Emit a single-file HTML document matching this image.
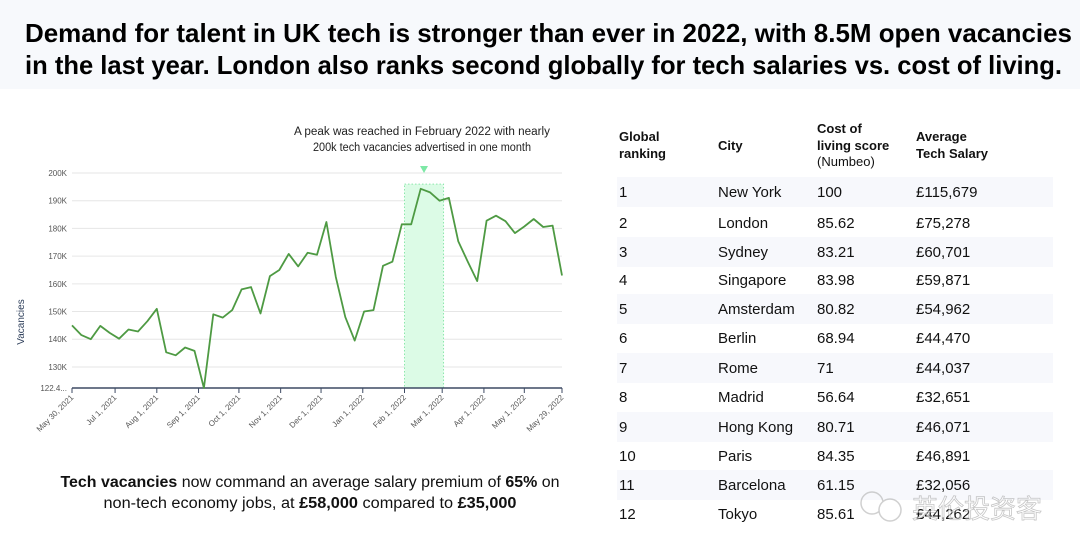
<!DOCTYPE html>
<html><head><meta charset="utf-8"><style>
html,body{margin:0;padding:0;background:#fff;}
svg{display:block;font-family:"Liberation Sans","Noto Sans CJK SC",sans-serif;}
</style></head><body>
<svg id="s" width="1080" height="556" viewBox="0 0 1080 556" xmlns="http://www.w3.org/2000/svg">
<rect x="0" y="0" width="1080" height="89" fill="#f7f9fc"/>
<g font-weight="bold" font-size="26" fill="#000">
<text x="25" y="42" textLength="1047" lengthAdjust="spacingAndGlyphs">Demand for talent in UK tech is stronger than ever in 2022, with 8.5M open vacancies</text>
<text x="25" y="74" textLength="1037" lengthAdjust="spacingAndGlyphs">in the last year. London also ranks second globally for tech salaries vs. cost of living.</text>
</g>
<g font-size="11.5" fill="#222" text-anchor="middle">
<text x="422" y="135" textLength="256" lengthAdjust="spacingAndGlyphs">A peak was reached in February 2022 with  nearly</text>
<text x="422" y="151" textLength="218" lengthAdjust="spacingAndGlyphs">200k tech vacancies advertised in one month</text>
</g>
<g id="chart"></g>
<text x="24" y="322" transform="rotate(-90 24 322)" text-anchor="middle" font-size="10" fill="#2d3e5a">Vacancies</text>
<g font-size="15.5" fill="#111" text-anchor="middle">
<text x="310" y="487" textLength="499" lengthAdjust="spacingAndGlyphs"><tspan font-weight="bold">Tech vacancies</tspan> now command an average salary premium of <tspan font-weight="bold">65%</tspan> on</text>
<text x="310" y="508" textLength="413" lengthAdjust="spacingAndGlyphs">non-tech economy jobs, at <tspan font-weight="bold">£58,000</tspan> compared to <tspan font-weight="bold">£35,000</tspan></text>
</g>
<g font-size="13" font-weight="bold" fill="#111">
<text x="619" y="141">Global</text><text x="619" y="158">ranking</text>
<text x="718" y="150">City</text>
<text x="817" y="133">Cost of</text><text x="817" y="150">living score</text>
<text x="817" y="166" font-weight="normal">(Numbeo)</text>
<text x="916" y="141">Average</text><text x="916" y="158">Tech Salary</text>
</g>
<g id="table"></g>
<g opacity="0.55">
<circle cx="872" cy="503" r="11" fill="none" stroke="#aaa" stroke-width="1.5"/>
<circle cx="890" cy="510" r="11" fill="#fff" stroke="#aaa" stroke-width="1.5"/>
<text x="912" y="518" font-size="26" fill="#fff" stroke="#999" stroke-width="0.8">英伦投资客</text>
</g>
</svg>
<script>
const categories = ["May 30, 2021","Jul 1, 2021","Aug 1, 2021","Sep 1, 2021","Oct 1, 2021","Nov 1, 2021","Dec 1, 2021","Jan 1, 2022","Feb 1, 2022","Mar 1, 2022","Apr 1, 2022","May 1, 2022","May 29, 2022"];
const tickDays = [0,32,63,94,124,155,185,216,247,275,306,336,364];
const yTicks = [130,140,150,160,170,180,190,200];
const yTickLabels = ["130K","140K","150K","160K","170K","180K","190K","200K"];
const vacancies = [145,141.5,140,144.8,142.3,140.2,143.5,142.8,146.5,151,135.3,134.2,137,135.8,122.4,149,147.8,150.5,158,158.8,149.3,162.8,165,170.8,166.3,171.2,170.5,182.3,162.5,148,139.5,150,150.5,166.5,168,181.5,181.5,194.3,193,190,191,175.3,168,161,182.8,184.6,182.6,178.3,180.7,183.4,180.5,181,163];
const highlightDays = [247,276];
const ranks = ["1","2","3","4","5","6","7","8","9","10","11","12"];
const cities = ["New York","London","Sydney","Singapore","Amsterdam","Berlin","Rome","Madrid","Hong Kong","Paris","Barcelona","Tokyo"];
const costScores = ["100","85.62","83.21","83.98","80.82","68.94","71","56.64","80.71","84.35","61.15","85.61"];
const salaries = ["£115,679","£75,278","£60,701","£59,871","£54,962","£44,470","£44,037","£32,651","£46,071","£46,891","£32,056","£44,262"];

const NS="http://www.w3.org/2000/svg";
function mk(tag,attrs,parent){const e=document.createElementNS(NS,tag);for(const k in attrs)e.setAttribute(k,attrs[k]);parent.appendChild(e);return e;}
const chart=document.getElementById('chart');
const x0=72,x1=562,yMin=122.4,yMax=200,yBot=388,yTop=173;
const xDay=d=>x0+(x1-x0)*d/364;
const xIdx=i=>x0+(x1-x0)*i/(vacancies.length-1);
const yV=v=>yBot-(yBot-yTop)*(v-yMin)/(yMax-yMin);

yTicks.forEach((t,i)=>{
  const g=mk('line',{x1:x0,x2:x1,y1:yV(t),y2:yV(t),stroke:'#e6e6e6','stroke-width':1},chart);
  
  
  const l=mk('text',{x:67,y:yV(t)+3,'text-anchor':'end','font-size':8,fill:'#555'},chart);
  l.textContent=yTickLabels[i];
  
  
});
const bl=mk('text',{x:67,y:yBot+3,'text-anchor':'end','font-size':8,fill:'#555'},chart);
bl.textContent='122.4...';



const hx=xDay(highlightDays[0]),hx2=xDay(highlightDays[1]);
const hr=mk('rect',{x:hx,y:yV(196),width:hx2-hx,height:yBot-yV(196),fill:'#dcfbe6',stroke:'#8be8ab','stroke-dasharray':'1.5 2','stroke-width':1},chart);


const tri=mk('path',{d:`M${(hx+hx2)/2-4},166 L${(hx+hx2)/2+4},166 L${(hx+hx2)/2},173 Z`,fill:'#7de8a6'},chart);



const ax=mk('line',{x1:x0,x2:x1,y1:yBot,y2:yBot,stroke:'#3d4a63','stroke-width':1.5},chart);


categories.forEach((c,i)=>{
  const x=xDay(tickDays[i]);
  const tk=mk('line',{x1:x,x2:x,y1:yBot,y2:yBot+5,stroke:'#3d4a63','stroke-width':1},chart);
  
  
  const t=mk('text',{x:x+2,y:yBot+10,'text-anchor':'end','font-size':8,fill:'#555',transform:`rotate(-45 ${x+2} ${yBot+10})`},chart);
  t.textContent=c;
  
  
});

const pts=vacancies.map((v,i)=>xIdx(i).toFixed(1)+','+yV(v).toFixed(1)).join(' ');
const line=mk('polyline',{points:pts,fill:'none',stroke:'#4e9a43','stroke-width':1.8,'stroke-linejoin':'round'},chart);



const table=document.getElementById('table');
const rowC=[192,223,252,280,309,338,368,397,427,456,485,514];
ranks.forEach((r,i)=>{
  const c=rowC[i];
  if(i%2===0){
    const bg=mk('rect',{x:617,y:c-15,width:436,height:30,fill:'#f7f8fc'},table);
    
    
  }
  const g=mk('g',{'font-size':15,fill:'#111'},table);
  
  
  [[619,r],[718,cities[i]],[817,costScores[i]],[916,salaries[i]]].forEach(([x,s])=>{
    const t=mk('text',{x:x,y:c+5},g);t.textContent=s;
  });
});
</script>
</body></html>
